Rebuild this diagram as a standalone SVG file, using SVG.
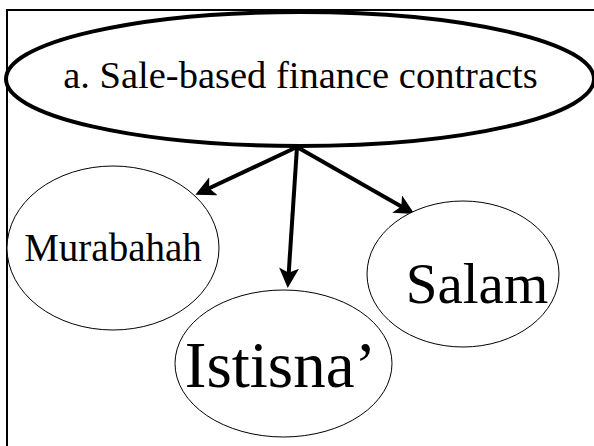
<svg xmlns="http://www.w3.org/2000/svg" width="594" height="446" viewBox="0 0 594 446">
  <defs>
    <style>
      .lbl { font-family: "Liberation Serif", "Times New Roman", serif; fill: #000; text-anchor: middle; }
      .sub { fill: #fff; stroke: #000; stroke-width: 1; }
      .link { stroke: #000; stroke-width: 4; fill: none; marker-end: url(#head); }
    </style>
    <marker id="head" markerWidth="5" markerHeight="5" refX="4" refY="2.5" orient="auto" markerUnits="strokeWidth">
      <path d="M0,0 L5,2.5 L0,5 L1.2,2.5 Z" fill="#000"/>
    </marker>
  </defs>
  <rect width="594" height="446" fill="#fff"/>
  <!-- frame: top and left edges -->
  <path d="M7,446 V10 H594" fill="none" stroke="#000" stroke-width="2"/>

  <g id="connectors">
    <line class="link" x1="297" y1="147" x2="199" y2="193"/>
    <line class="link" x1="297" y1="147" x2="288" y2="284"/>
    <line class="link" x1="297" y1="147" x2="411" y2="212"/>
  </g>

  <g id="sale-based">
    <ellipse cx="300" cy="79" rx="294" ry="67" fill="none" stroke="#000" stroke-width="4"/>
    <text class="lbl" x="300.5" y="88" font-size="38.5">a. Sale-based finance contracts</text>
  </g>

  <g id="murabahah">
    <ellipse class="sub" cx="113" cy="248" rx="106" ry="82"/>
    <text class="lbl" x="113" y="261" font-size="39">Murabahah</text>
  </g>

  <g id="salam">
    <ellipse class="sub" cx="463" cy="274" rx="96" ry="73"/>
    <text class="lbl" x="477" y="303" font-size="57">Salam</text>
  </g>

  <g id="istisna">
    <ellipse class="sub" cx="283.5" cy="363.5" rx="108.5" ry="73.5"/>
    <text class="lbl" x="280.5" y="387" font-size="65">Istisna’</text>
  </g>
</svg>
